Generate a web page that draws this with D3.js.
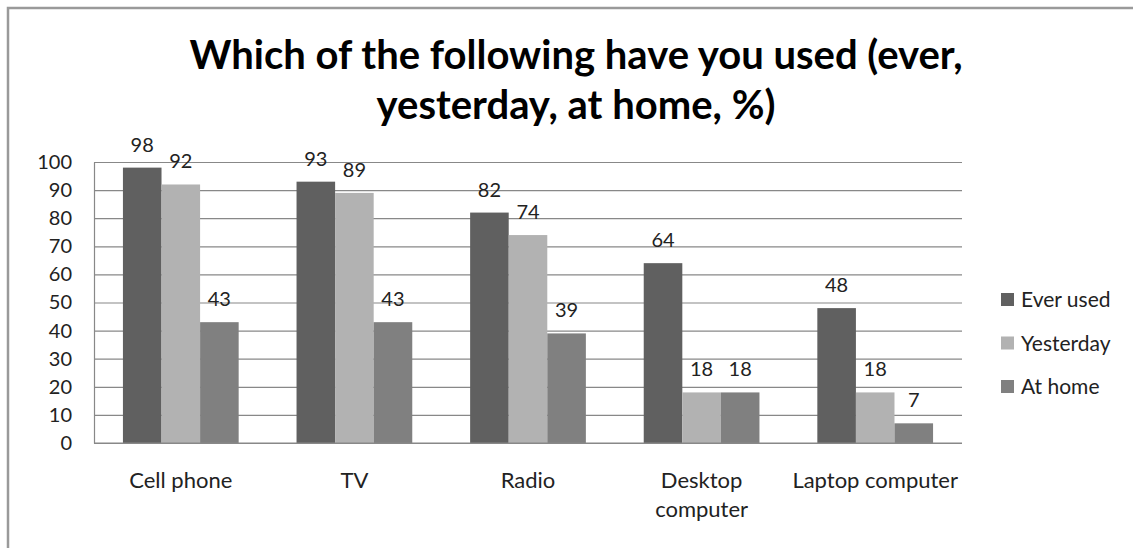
<!DOCTYPE html>
<html>
<head>
<meta charset="utf-8">
<script src="https://cdn.jsdelivr.net/npm/d3@7"></script>
<style>
  body { margin: 0; background: #fff; }
  #chart { width: 1133px; height: 548px; }
</style>
</head>
<body>
<div id="chart"></div>
<script>
const categories = ["Cell phone", "TV", "Radio", "Desktop\ncomputer", "Laptop computer"];
const seriesNames = ["Ever used", "Yesterday", "At home"];
const everUsed = [98, 93, 82, 64, 48];
const yesterday = [92, 89, 74, 18, 18];
const atHome = [43, 43, 39, 18, 7];
const yTicks = [0, 10, 20, 30, 40, 50, 60, 70, 80, 90, 100];
const titleLines = ["Which of the following have you used (ever,", "yesterday, at home, %)"];

function renderChart() {
    const width = 1133, height = 548;
    const seriesValues = [everUsed, yesterday, atHome];
    const colors = ["#606060", "#b2b2b2", "#808080"];
    const font = "Lato, 'Open Sans', sans-serif";

    const svg = d3.select("#chart")
        .append("svg")
        .attr("width", width)
        .attr("height", height);

    // Outer frame (only left and top edges are visible)
    svg.append("rect")
        .attr("x", 8)
        .attr("y", 8)
        .attr("width", width + 10)
        .attr("height", height + 10)
        .attr("fill", "none")
        .attr("stroke", "#9a9a9a")
        .attr("stroke-width", 2.5);

    // Title
    svg.append("text")
        .attr("x", 576)
        .attr("y", 69)
        .attr("text-anchor", "middle")
        .attr("font-family", font)
        .attr("font-weight", 700)
        .attr("font-size", "40px")
        .attr("fill", "#000")
        .selectAll("tspan")
        .data(titleLines)
        .join("tspan")
        .attr("x", 576)
        .attr("dy", (d, i) => i === 0 ? 0 : 50)
        .text(d => d);

    const plot = { left: 94, right: 962, top: 162, bottom: 443 };

    const x0 = d3.scaleBand()
        .domain(categories)
        .range([plot.left, plot.right])
        .paddingInner(1 / 3)
        .paddingOuter(1 / 6);

    const x1 = d3.scaleBand()
        .domain(seriesNames)
        .range([0, x0.bandwidth()]);

    const y = d3.scaleLinear()
        .domain([0, 100])
        .range([plot.bottom, plot.top]);

    // Gridlines
    svg.append("g")
        .attr("transform", `translate(${plot.left},0)`)
        .call(d3.axisLeft(y).tickValues(yTicks).tickSize(-(plot.right - plot.left)).tickFormat(""))
        .call(g => g.select(".domain").remove())
        .selectAll("line")
        .attr("stroke", "#888")
        .attr("stroke-width", 1.2);

    // Y axis labels
    const yAxis = svg.append("g")
        .attr("transform", `translate(${plot.left},0)`)
        .call(d3.axisLeft(y).tickValues(yTicks).tickSize(0).tickPadding(22));
    yAxis.select(".domain")
        .attr("stroke", "#888")
        .attr("stroke-width", 1.2);
    yAxis.selectAll("text")
        .attr("font-family", font)
        .attr("font-size", "20px")
        .attr("fill", "#222");

    // Bars
    const groups = svg.append("g")
        .selectAll("g")
        .data(categories)
        .join("g")
        .attr("transform", d => `translate(${x0(d)},0)`);

    seriesNames.forEach((name, si) => {
        groups.append("rect")
            .attr("x", x1(name))
            .attr("y", (d, ci) => y(seriesValues[si][ci]))
            .attr("width", x1.bandwidth())
            .attr("height", (d, ci) => y(0) - y(seriesValues[si][ci]))
            .attr("fill", colors[si]);

        groups.append("text")
            .attr("x", x1(name) + x1.bandwidth() / 2)
            .attr("y", (d, ci) => y(seriesValues[si][ci]) - 16)
            .attr("text-anchor", "middle")
            .attr("font-family", font)
            .attr("font-size", "20px")
            .attr("fill", "#222")
            .text((d, ci) => seriesValues[si][ci]);
    });

    // X axis line
    svg.append("line")
        .attr("x1", plot.left)
        .attr("x2", plot.right)
        .attr("y1", plot.bottom)
        .attr("y2", plot.bottom)
        .attr("stroke", "#888")
        .attr("stroke-width", 1.2);

    // Category labels
    svg.append("g")
        .selectAll("text")
        .data(categories)
        .join("text")
        .attr("x", d => x0(d) + x0.bandwidth() / 2)
        .attr("y", 488)
        .attr("text-anchor", "middle")
        .attr("font-family", font)
        .attr("font-size", "22px")
        .attr("fill", "#222")
        .each(function(d) {
            const lines = d.split("\n");
            d3.select(this).selectAll("tspan")
                .data(lines)
                .join("tspan")
                .attr("x", x0(d) + x0.bandwidth() / 2)
                .attr("dy", (l, i) => i === 0 ? 0 : 29)
                .text(l => l);
        });

    // Legend
    const legend = svg.append("g")
        .selectAll("g")
        .data(seriesNames)
        .join("g")
        .attr("transform", (d, i) => `translate(1001,${300 + i * 43.5})`);

    legend.append("rect")
        .attr("x", 0)
        .attr("y", -7)
        .attr("width", 13)
        .attr("height", 13)
        .attr("fill", (d, i) => colors[i]);

    legend.append("text")
        .attr("x", 20)
        .attr("y", 7)
        .attr("font-family", font)
        .attr("font-size", "21px")
        .attr("fill", "#222")
        .text(d => d);
}

renderChart();
</script>
</body>
</html>
